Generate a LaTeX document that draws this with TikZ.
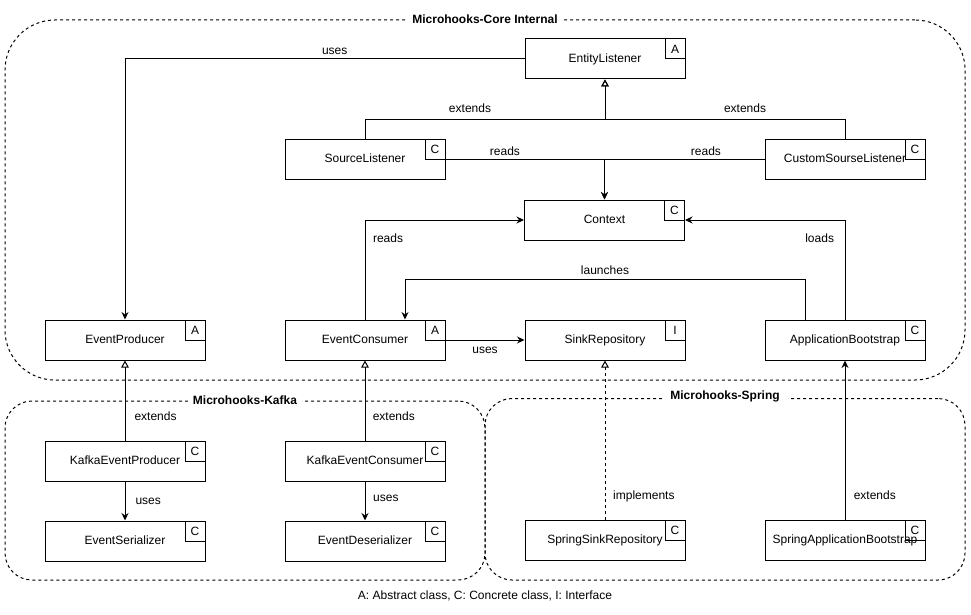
\documentclass[tikz,border=0pt]{standalone}
\usepackage{fontspec}
\setmainfont{Liberation Sans}
\usetikzlibrary{arrows.meta}
\tikzset{
    txt/.style={font=\fontsize{12pt}{14pt}\selectfont},
    cls/.style={txt, draw, line width=1pt, minimum width=160pt, minimum height=40pt, inner sep=0pt, text height=9pt, text depth=2pt},
    tag/.style={txt, draw, line width=1pt, minimum size=20pt, inner sep=0pt, anchor=north east, text height=8.6pt, text depth=0pt},
    lbl/.style={txt, inner sep=0pt, anchor=base},
    group/.style={draw, line width=1pt, dash pattern=on 3pt off 3pt, inner sep=0pt},
    title/.style={txt, font=\fontsize{12pt}{14pt}\selectfont\bfseries, fill=white, inner xsep=5pt, inner ysep=1pt, text height=8.6pt, text depth=0pt},
    uses/.style={line width=1pt, -{Stealth[length=7.5pt, width=7pt, inset=2.5pt]}},
    ext/.style={line width=1pt, -{Triangle[open, length=7pt, width=7.5pt]}},
    impl/.style={ext, dash pattern=on 3pt off 3pt},
}
\begin{document}
\begin{tikzpicture}[x=1pt, y=-1pt]
        \useasboundingbox (0,0) rectangle (971,615);
        \node[group, rounded corners=50pt, minimum width=960pt, minimum height=360pt] (core) at (485,200) {};
        \node[group, rounded corners=27pt, minimum width=480pt, minimum height=179pt] (kafka) at (245,490.5) {};
        \node[group, rounded corners=27pt, minimum width=480pt, minimum height=181.5pt] (spring) at (725,489.25) {};
        \node[title] (core-title) at (core.north) {Microhooks-Core Internal};
        \node[title] (kafka-title) at (kafka.north) {Microhooks-Kafka};
        \node[title, inner xsep=8pt, yshift=2.5pt] (spring-title) at (spring.north) {Microhooks-Spring};
        \foreach \n/\x/\y/\t/\k in {entity/605/59/EntityListener/A, srcl/365/159/SourceListener/C,
            custl/845/159/CustomSourseListener/C, ctx/604.5/220/Context/C,
            eprod/125/340/EventProducer/A, econs/365/340/EventConsumer/A,
            sink/605/340/SinkRepository/I, appb/845/340/ApplicationBootstrap/C,
            kprod/125/461/KafkaEventProducer/C, kcons/365/461/KafkaEventConsumer/C,
            eser/125/541/EventSerializer/C, edes/365/541/EventDeserializer/C,
            ssink/605/540/SpringSinkRepository/C, sappb/845/540/SpringApplicationBootstrap/C} {
            \node[cls] (\n) at (\x,\y) {\t};
            \node[tag] (\n-tag) at (\n.north east) {\k};
            }
        \draw[uses] (entity.west) -| node[lbl, pos=0.2375, yshift=4.5pt] {uses} (eprod.north);
        \draw[ext] (srcl.north) -- ++(0,-19) -| node[lbl, pos=0.21875, yshift=6.7pt] {extends} (entity.south);
        \draw[ext] (custl.north) -- ++(0,-19) -| node[lbl, pos=0.2083, yshift=6.7pt] {extends} (entity.south);
        \draw[uses] (srcl.east) -| node[lbl, pos=0.187, yshift=3.3pt] {reads} (ctx.north);
        \draw[uses] (custl.west) -| node[lbl, pos=0.183, yshift=3.7pt] {reads} (ctx.north);
        \draw[uses] (econs.north) |- node[lbl, pos=0.3865, anchor=base west, xshift=7.5pt] {reads} (ctx.west);
        \draw[uses] (appb.north) |- node[lbl, pos=0.3865, anchor=base east, xshift=-10.5pt] {loads} (ctx.east);
        \draw[uses] ([xshift=-40pt]appb.north) -- ++(0,-40) -| node[lbl, pos=0.25, yshift=5pt] {launches} ([xshift=40pt]econs.north);
        \draw[uses] (econs.east) -- node[lbl, pos=0.5, yshift=-13.3pt] {uses} (sink.west);
        \draw[ext] (kprod.north) -- node[lbl, pos=0.25, anchor=base west, xshift=9pt] {extends} (eprod.south);
        \draw[ext] (kcons.north) -- node[lbl, pos=0.25, anchor=base west, xshift=7.3pt] {extends} (econs.south);
        \draw[uses] (kprod.south) -- node[lbl, pos=0.6, anchor=base west, xshift=10pt] {uses} (eser.north);
        \draw[uses] (kcons.south) -- node[lbl, pos=0.52, anchor=base west, xshift=7.7pt] {uses} (edes.north);
        \draw[impl] (ssink.north) -- node[lbl, pos=0.128, anchor=base west, xshift=7.7pt] {implements} (sink.south);
        \draw[uses] (sappb.north) -- node[lbl, pos=0.123, anchor=base west, xshift=8.3pt] {extends} (appb.south);
        \node[lbl] (legend) at (485,599) {A: Abstract class, C: Concrete class, I: Interface};
    \end{tikzpicture}
\end{document}
